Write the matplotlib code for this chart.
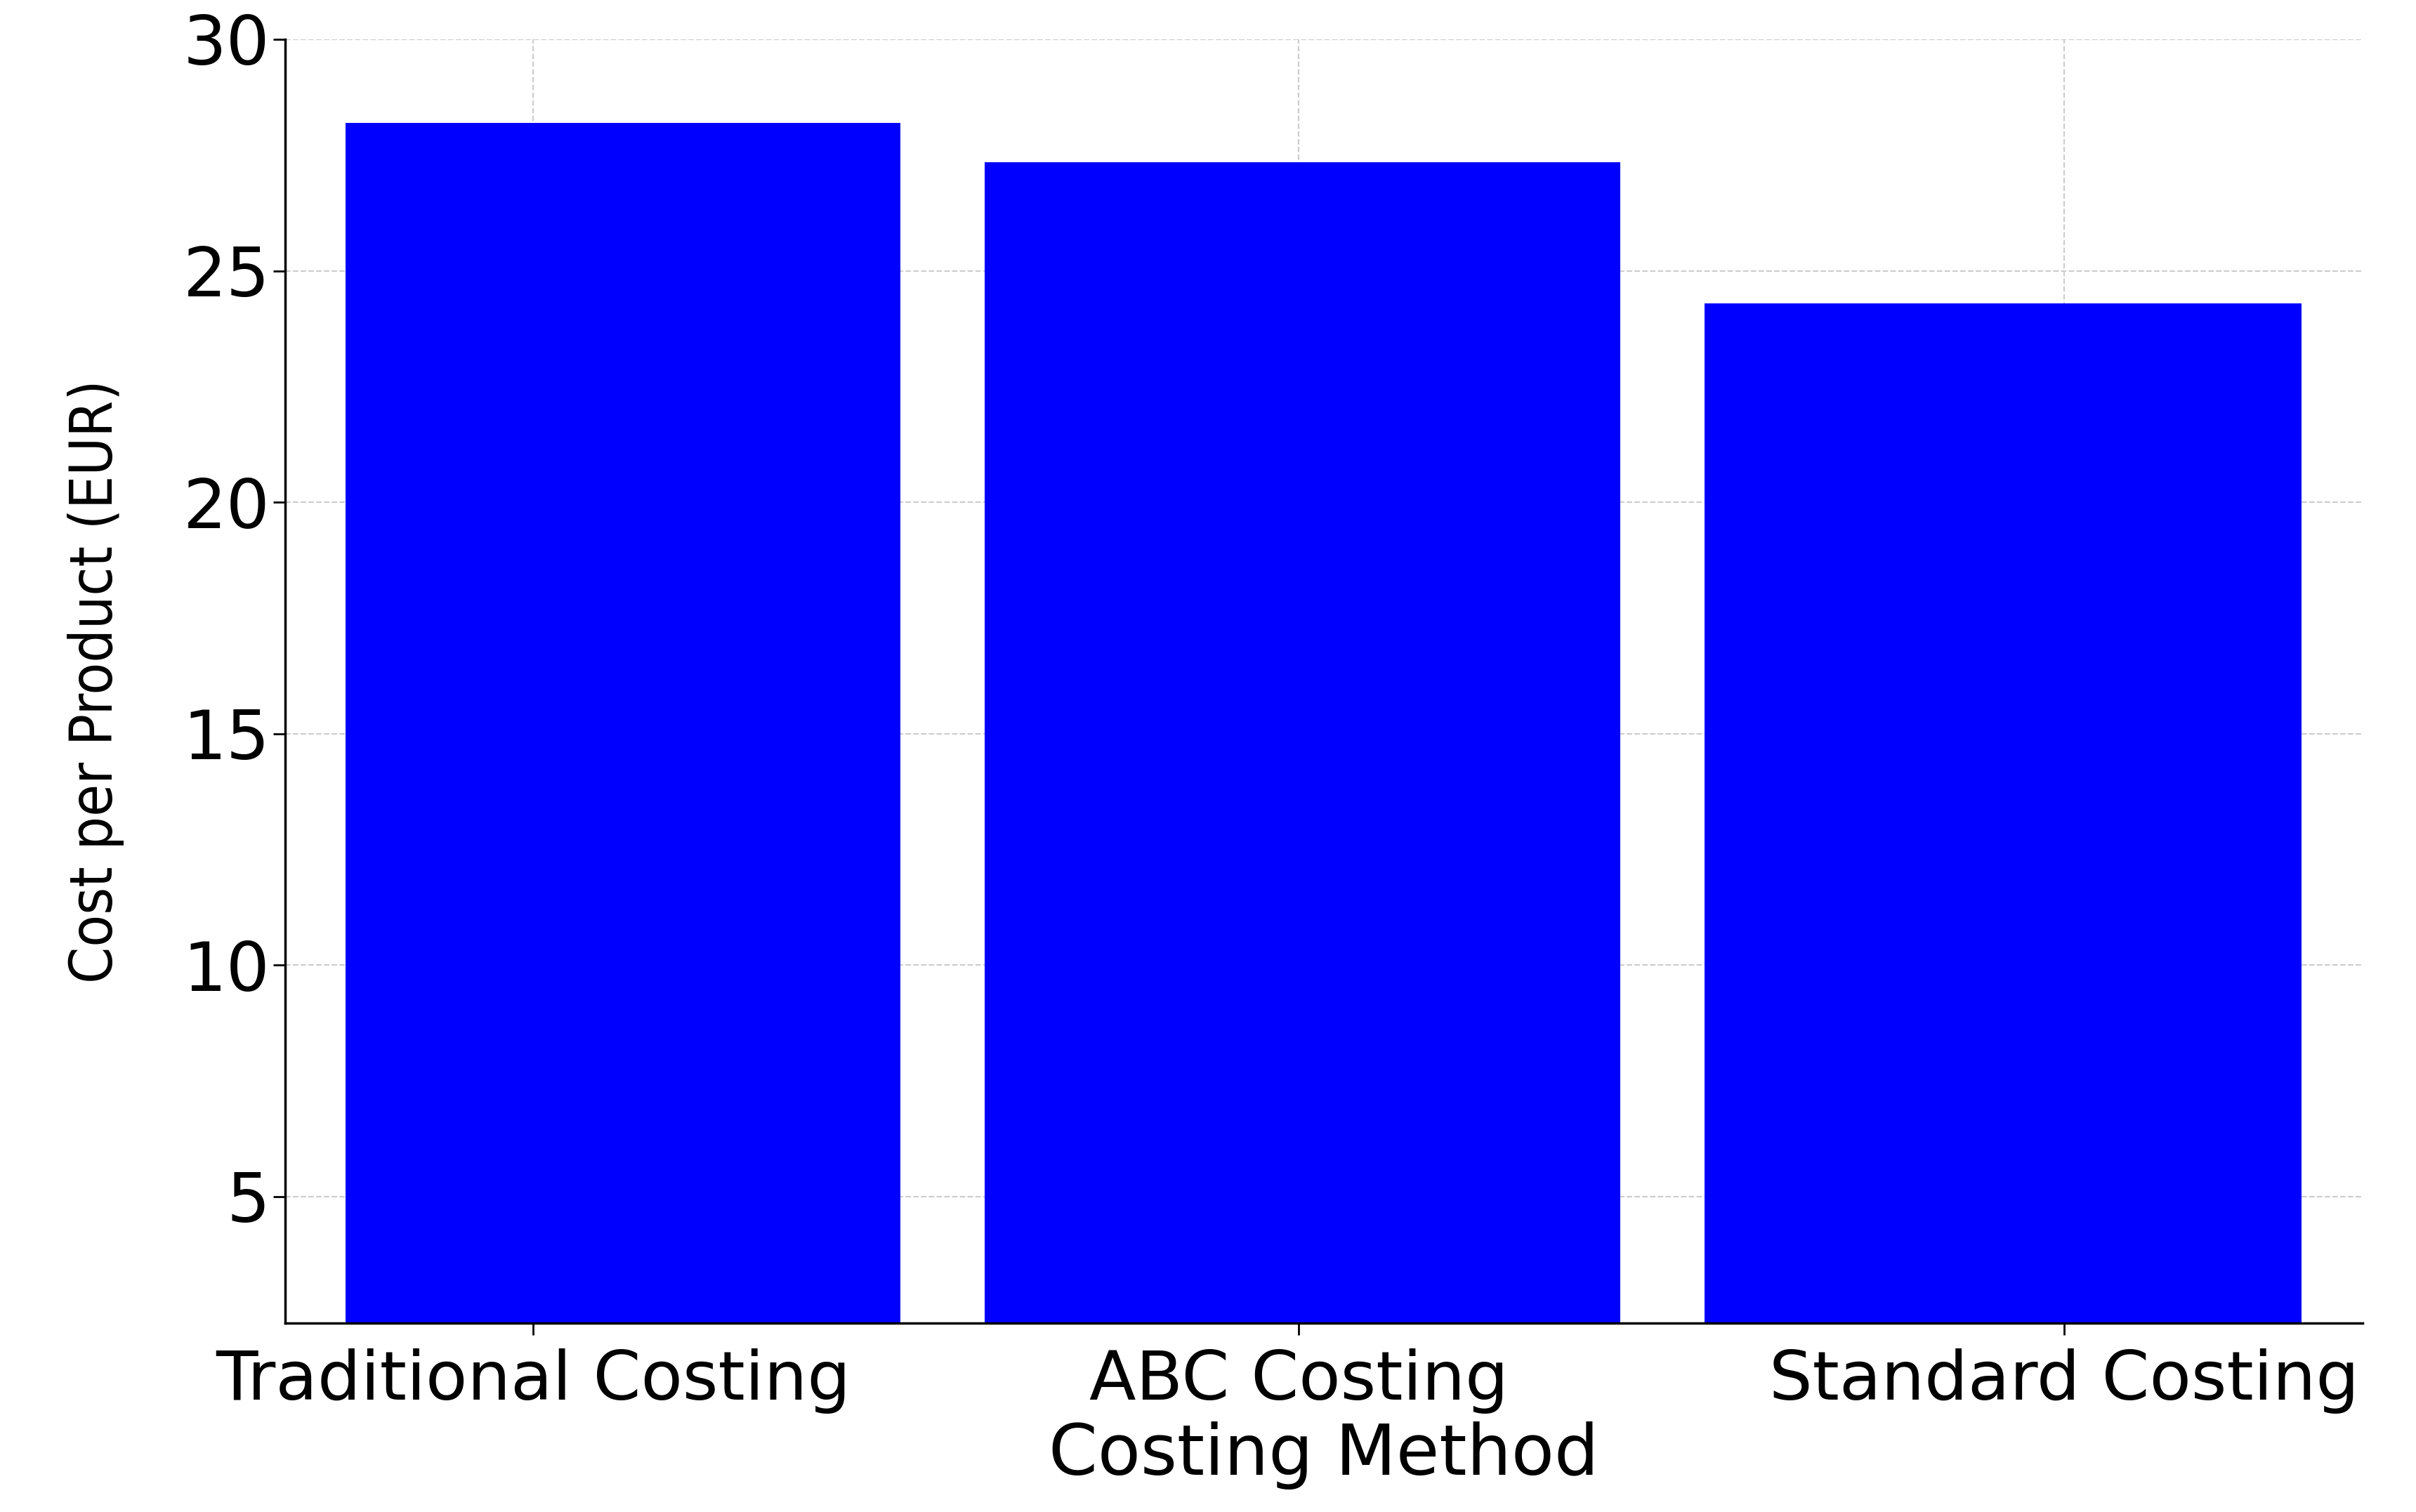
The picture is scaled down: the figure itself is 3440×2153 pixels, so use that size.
import matplotlib.pyplot as plt
import numpy as np

methods = ["Traditional Costing", "ABC Costing", "Standard Costing"]
costs = [28.2, 27.35, 24.3]

# bar extents relative to tick position (layout, as drawn in the reference)
bar_left = [-0.245, -0.41, -0.47]
bar_right = [0.48, 0.42, 0.31]

fig = plt.figure(figsize=(34.4, 21.53), dpi=100)
ax = fig.add_axes([0.118, 0.125, 0.86, 0.849])

x = np.arange(len(methods))
widths = np.array(bar_right) - np.array(bar_left)
ax.bar(x + np.array(bar_left), costs, width=widths, align="edge",
       color="#0000ff", zorder=2)

ax.set_xlim(-0.324, 2.39)
ax.set_ylim(2.27, 30)
ax.set_yticks([5, 10, 15, 20, 25, 30])
ax.set_xticks(x)
ax.set_xticklabels(methods)
ax.tick_params(axis="both", labelsize=70, length=12, width=2)
ax.tick_params(axis="x", pad=14)

ax.set_xlabel("Costing Method", fontsize=72, labelpad=8)
ax.set_ylabel("Cost per Product (EUR)", fontsize=60, stretch="condensed", labelpad=60)

ax.grid(True, linestyle="--", color="#cccccc", linewidth=1.5, zorder=0)
ax.spines["top"].set_visible(False)
ax.spines["right"].set_visible(False)
ax.spines["left"].set_linewidth(2.5)
ax.spines["bottom"].set_linewidth(2.5)

fig.savefig("out.png", dpi=100)
